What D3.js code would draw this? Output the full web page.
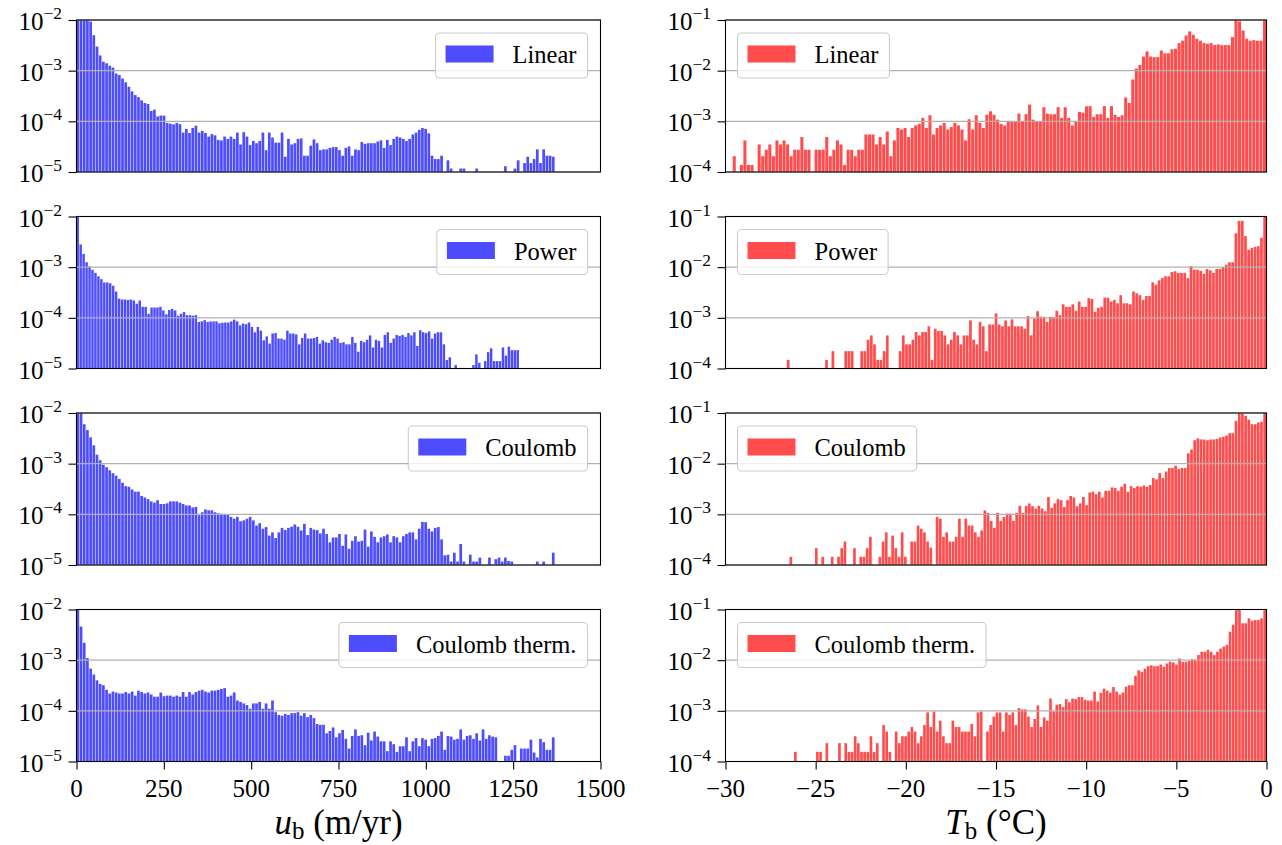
<!DOCTYPE html>
<html>
<head>
<meta charset="utf-8">
<script src="https://cdn.jsdelivr.net/npm/d3@7"></script>
<style>
body { margin: 0; background: #fff; }
svg text { font-family: "Liberation Serif", "Times New Roman", serif; fill: #000; }
</style>
</head>
<body>
<div id="chart"></div>
<script>
// ---- data (density per bin, 150 bins per histogram) ----
var labels = ["Linear", "Power", "Coulomb", "Coulomb therm."];

// value range covered by the bins of each histogram
var velRanges = [[0, 1370], [0, 1268], [0, 1370], [0, 1370]];
var tempRanges = [[-29.6, 0], [-26.6, 0], [-26.45, 0], [-26.2, 0]];

var velTicks = [0, 250, 500, 750, 1000, 1250, 1500];
var tempTicks = [-30, -25, -20, -15, -10, -5, 0];
var velDecades = [1e-5, 1e-4, 1e-3, 1e-2];
var tempDecades = [1e-4, 1e-3, 1e-2, 1e-1];

var velLinear = [
 1.5e-2,1.3e-2,1.1e-2,1.0e-2,9.3e-3,5.0e-3,3.0e-3,2.0e-3,1.5e-3,1.4e-3,
 1.25e-3,1.15e-3,8.8e-4,8.2e-4,7.0e-4,5.9e-4,4.8e-4,3.9e-4,3.3e-4,3.0e-4,
 2.6e-4,2.3e-4,2.2e-4,1.6e-4,1.7e-4,1.25e-4,1.3e-4,1.3e-4,9.3e-5,9.0e-5,
 8.7e-5,9.3e-5,8.8e-5,6.0e-5,7.1e-5,5.9e-5,7.4e-5,8.2e-5,6.0e-5,6.5e-5,
 5.9e-5,5.0e-5,5.6e-5,5.3e-5,4.3e-5,4.2e-5,5.0e-5,4.5e-5,5.0e-5,4.5e-5,
 6.0e-5,3.5e-5,6.1e-5,5.0e-5,3.4e-5,4.1e-5,3.7e-5,4.1e-5,6.0e-5,2.7e-5,
 6.0e-5,4.8e-5,3.8e-5,3.8e-5,6.0e-5,2.0e-5,4.5e-5,3.5e-5,3.7e-5,4.5e-5,
 4.6e-5,2.1e-5,2.1e-5,3.3e-5,4.4e-5,3.7e-5,2.7e-5,2.8e-5,2.8e-5,3.0e-5,
 3.1e-5,3.1e-5,2.7e-5,2.1e-5,3.0e-5,3.2e-5,2.1e-5,2.8e-5,2.7e-5,3.9e-5,
 3.6e-5,3.7e-5,3.7e-5,3.7e-5,4.0e-5,4.2e-5,3.0e-5,4.3e-5,3.4e-5,4.5e-5,
 5.0e-5,4.8e-5,4.5e-5,4.1e-5,4.5e-5,5.5e-5,6.0e-5,6.8e-5,7.4e-5,7.1e-5,
 5.8e-5,2.1e-5,1.8e-5,1.8e-5,2.1e-5,0,1.7e-5,1.17e-5,0,0,
 1.17e-5,1.17e-5,0,0,0,1.17e-5,0,0,0,0,
 0,0,0,0,1.3e-5,0,0,1.17e-5,1.7e-5,0,
 1.5e-5,2.0e-5,1.5e-5,1.8e-5,2.8e-5,1.5e-5,2.8e-5,2.1e-5,2.1e-5,2.0e-5
];

var velPower = [
 1.2e-2,2.8e-3,1.83e-3,1.25e-3,1.04e-3,8.9e-4,7.7e-4,6.6e-4,5.8e-4,5.0e-4,
 5.0e-4,4.8e-4,4.3e-4,3.3e-4,2.4e-4,2.3e-4,2.3e-4,2.25e-4,2.3e-4,2.2e-4,
 1.9e-4,2.2e-4,1.65e-4,1.65e-4,1.2e-4,1.6e-4,1.6e-4,1.6e-4,1.65e-4,1.4e-4,
 1.17e-4,1.43e-4,1.5e-4,1.4e-4,1.1e-4,1.2e-4,1.3e-4,1.13e-4,1.13e-4,1.1e-4,
 1.13e-4,8.3e-5,8.5e-5,9.0e-5,8.3e-5,8.5e-5,8.5e-5,8.5e-5,7.8e-5,8.0e-5,
 8.1e-5,8.1e-5,8.5e-5,9.2e-5,8.5e-5,7.1e-5,7.7e-5,7.5e-5,8.1e-5,6.6e-5,
 5.2e-5,6.6e-5,5.6e-5,3.6e-5,4.3e-5,3.1e-5,4.9e-5,5.0e-5,3.9e-5,3.9e-5,
 3.7e-5,5.6e-5,4.9e-5,4.9e-5,4.7e-5,3.0e-5,4.0e-5,4.9e-5,3.9e-5,3.9e-5,
 4.0e-5,4.2e-5,3.1e-5,3.6e-5,3.3e-5,3.2e-5,3.7e-5,4.2e-5,3.9e-5,3.2e-5,
 3.3e-5,3.0e-5,3.0e-5,4.2e-5,3.2e-5,2.15e-5,3.5e-5,3.3e-5,3.7e-5,4.5e-5,
 2.6e-5,3.7e-5,3.5e-5,2.6e-5,4.6e-5,5.2e-5,3.2e-5,3.9e-5,4.6e-5,4.4e-5,
 4.6e-5,4.2e-5,5.0e-5,4.5e-5,5.2e-5,2.8e-5,5.7e-5,5.2e-5,5.0e-5,5.4e-5,
 3.9e-5,4.9e-5,5.2e-5,5.2e-5,3.0e-5,1.47e-5,1.66e-5,0,1.17e-5,0,
 0,0,0,0,1.17e-5,1.9e-5,1.3e-5,0,1.4e-5,2.1e-5,
 2.5e-5,1.4e-5,1.4e-5,1.4e-5,2.6e-5,1.8e-5,2.7e-5,2.3e-5,2.3e-5,2.3e-5
];

var velCoulomb = [
 1.2e-2,1.0e-2,6.0e-3,4.6e-3,3.3e-3,2.3e-3,1.5e-3,1.17e-3,9.5e-4,8.5e-4,
 7.4e-4,6.5e-4,5.8e-4,5.0e-4,4.2e-4,3.6e-4,3.5e-4,3.1e-4,2.8e-4,2.8e-4,
 2.3e-4,2.15e-4,2.0e-4,1.8e-4,1.7e-4,1.9e-4,1.6e-4,1.6e-4,1.65e-4,1.8e-4,
 1.8e-4,1.8e-4,1.7e-4,1.6e-4,1.5e-4,1.5e-4,1.37e-4,1.4e-4,9.6e-5,1.1e-4,
 1.25e-4,1.2e-4,1.2e-4,1.1e-4,1.05e-4,1.02e-4,1.0e-4,9.8e-5,8.9e-5,8.2e-5,
 8.9e-5,7.3e-5,7.6e-5,8.2e-5,8.9e-5,7.6e-5,6.0e-5,6.7e-5,5.2e-5,5.6e-5,
 3.8e-5,4.4e-5,3.4e-5,4.4e-5,5.4e-5,4.9e-5,5.4e-5,5.7e-5,6.3e-5,5.7e-5,
 4.8e-5,6.5e-5,3.9e-5,5.4e-5,5.0e-5,4.9e-5,4.2e-5,5.2e-5,4.1e-5,2.8e-5,
 3.5e-5,3.5e-5,4.1e-5,2.4e-5,4.0e-5,2.1e-5,3.0e-5,3.7e-5,2.9e-5,3.0e-5,
 5.0e-5,2.3e-5,4.6e-5,3.6e-5,2.8e-5,3.5e-5,3.7e-5,4.0e-5,2.8e-5,3.7e-5,
 3.5e-5,2.8e-5,3.7e-5,4.1e-5,4.4e-5,4.4e-5,3.2e-5,5.2e-5,7.1e-5,7.0e-5,
 5.2e-5,4.6e-5,5.4e-5,5.6e-5,3.2e-5,1.55e-5,1.6e-5,1.17e-5,1.75e-5,1.17e-5,
 2.6e-5,1.17e-5,0,1.6e-5,1.17e-5,1.17e-5,1.4e-5,0,0,1.4e-5,
 0,1.3e-5,1.4e-5,1.17e-5,1.4e-5,1.2e-5,1.17e-5,0,0,0,
 0,0,0,0,1.17e-5,0,1.17e-5,0,0,1.75e-5
];

var velCoulombTherm = [
 1.2e-2,4.6e-3,2.2e-3,1.1e-3,6.8e-4,5.2e-4,4.0e-4,3.4e-4,3.2e-4,2.6e-4,
 2.2e-4,2.4e-4,2.3e-4,2.2e-4,2.2e-4,2.35e-4,2.2e-4,2.4e-4,2.0e-4,2.5e-4,
 2.35e-4,2.2e-4,2.3e-4,2.1e-4,1.9e-4,1.9e-4,2.3e-4,1.95e-4,2.0e-4,2.0e-4,
 1.9e-4,2.0e-4,1.9e-4,2.35e-4,1.9e-4,2.35e-4,2.1e-4,2.35e-4,2.5e-4,2.6e-4,
 2.4e-4,2.3e-4,2.5e-4,2.5e-4,2.6e-4,2.7e-4,2.8e-4,1.9e-4,2.0e-4,2.3e-4,
 1.6e-4,1.5e-4,1.4e-4,1.3e-4,1.1e-4,1.4e-4,1.4e-4,1.5e-4,1.1e-4,1.4e-4,
 1.1e-4,1.6e-4,9.4e-5,8.3e-5,8.0e-5,8.7e-5,8.3e-5,9.0e-5,9.0e-5,9.4e-5,
 8.0e-5,9.0e-5,7.5e-5,8.3e-5,7.2e-5,5.5e-5,5.3e-5,5.3e-5,3.6e-5,4.0e-5,
 4.7e-5,3.0e-5,3.6e-5,4.2e-5,2.8e-5,1.8e-5,3.2e-5,4.3e-5,3.2e-5,3.3e-5,
 2.1e-5,3.7e-5,2.6e-5,3.9e-5,3.1e-5,2.5e-5,2.5e-5,1.6e-5,2.5e-5,2.2e-5,
 1.55e-5,2.0e-5,2.0e-5,3.0e-5,1.6e-5,2.5e-5,2.9e-5,2.0e-5,2.9e-5,2.7e-5,
 2.0e-5,2.8e-5,2.9e-5,3.2e-5,3.9e-5,1.7e-5,3.2e-5,3.1e-5,2.7e-5,2.8e-5,
 4.3e-5,2.7e-5,3.2e-5,3.3e-5,2.8e-5,3.6e-5,2.6e-5,4.3e-5,2.8e-5,3.3e-5,
 3.1e-5,3.0e-5,0,0,1.3e-5,1.3e-5,1.7e-5,2.1e-5,0,1.8e-5,
 1.8e-5,1.8e-5,2.7e-5,1.5e-5,1.2e-5,2.8e-5,2.4e-5,1.7e-5,1.7e-5,3.0e-5
];

var tempLinear = [
 2.05e-4,0,1.38e-4,4.2e-4,1.38e-4,1.38e-4,0,3.5e-4,2.05e-4,2.75e-4,
 3.5e-4,2.05e-4,4.2e-4,3.5e-4,4.2e-4,3.5e-4,2.05e-4,2.75e-4,2.75e-4,4.9e-4,
 2.75e-4,2.75e-4,0,2.75e-4,2.75e-4,2.75e-4,4.9e-4,2.05e-4,2.75e-4,4.2e-4,
 3.5e-4,1.38e-4,2.75e-4,2.75e-4,2.05e-4,2.75e-4,2.75e-4,5.5e-4,5.5e-4,5.5e-4,
 3.5e-4,4.9e-4,3.5e-4,6.3e-4,2.05e-4,4.2e-4,7.4e-4,6.9e-4,7.4e-4,4.9e-4,
 7.4e-4,8.3e-4,8.9e-4,1.17e-3,7.4e-4,1.32e-3,5.5e-4,7.4e-4,8.3e-4,9.3e-4,
 6.9e-4,7.7e-4,9.3e-4,8.3e-4,6.9e-4,4.2e-4,1.1e-3,6.9e-4,1.32e-3,9.3e-4,
 7.4e-4,1.35e-3,1.58e-3,1.35e-3,1.08e-3,8.9e-4,8.3e-4,1.02e-3,9.7e-4,9.7e-4,
 1.42e-3,1.0e-3,1.38e-3,2.14e-3,1.08e-3,1.0e-3,9.7e-4,1.9e-3,1.42e-3,1.38e-3,
 1.38e-3,1.9e-3,1.17e-3,1.9e-3,1.17e-3,8.3e-4,1.02e-3,1.54e-3,1.48e-3,1.98e-3,
 2.0e-3,1.22e-3,1.38e-3,1.38e-3,2.0e-3,1.17e-3,2.0e-3,1.35e-3,1.22e-3,1.32e-3,
 2.95e-3,2.3e-3,6.7e-3,1.1e-2,1.3e-2,1.9e-2,2.4e-2,1.9e-2,1.85e-2,1.85e-2,
 2.5e-2,2.2e-2,2.2e-2,2.65e-2,2.7e-2,3.5e-2,3.9e-2,4.96e-2,5.95e-2,5.1e-2,
 4.25e-2,3.9e-2,3.5e-2,3.4e-2,3.5e-2,3.2e-2,3.3e-2,3.2e-2,3.2e-2,3.2e-2,
 4.6e-2,0.12,9.4e-2,6.2e-2,4.25e-2,3.9e-2,4.0e-2,3.9e-2,3.9e-2,0.12
];

var tempPower = [
 1.48e-4,0,0,0,0,0,0,0,0,0,
 0,0,1.48e-4,0,2.2e-4,0,0,0,2.2e-4,2.2e-4,
 2.2e-4,0,0,2.2e-4,2.2e-4,3.7e-4,4.5e-4,3.0e-4,1.48e-4,1.48e-4,
 2.2e-4,4.5e-4,0,0,0,2.2e-4,4.5e-4,3.0e-4,3.0e-4,3.7e-4,
 5.25e-4,4.5e-4,5.25e-4,5.25e-4,6.8e-4,1.48e-4,6.1e-4,5.5e-4,5.5e-4,4.5e-4,
 3.0e-4,3.7e-4,5.25e-4,4.5e-4,3.0e-4,4.5e-4,4.5e-4,8.9e-4,3.7e-4,3.0e-4,
 8.3e-4,6.8e-4,2.2e-4,7.4e-4,7.4e-4,1.22e-3,7.4e-4,6.8e-4,8.9e-4,6.8e-4,
 9.3e-4,6.8e-4,6.8e-4,6.8e-4,6.1e-4,1.08e-3,4.5e-4,9.7e-4,1.35e-3,1.05e-3,
 1.05e-3,8.3e-4,1.05e-3,1.02e-3,1.38e-3,1.13e-3,1.85e-3,1.65e-3,1.65e-3,1.85e-3,
 1.38e-3,2.1e-3,1.65e-3,1.65e-3,2.45e-3,2.35e-3,1.32e-3,1.58e-3,1.65e-3,2.5e-3,
 2.5e-3,2.1e-3,2.25e-3,1.94e-3,2.8e-3,1.94e-3,1.94e-3,1.85e-3,3.3e-3,3.05e-3,
 2.8e-3,2.25e-3,2.7e-3,2.7e-3,5.0e-3,4.5e-3,5.5e-3,6.1e-3,6.6e-3,6.6e-3,
 8.0e-3,8.3e-3,7.7e-3,7.7e-3,7.7e-3,6.1e-3,1.05e-2,8.9e-3,8.9e-3,8.5e-3,
 7.4e-3,9.2e-3,8.7e-3,7.7e-3,9.2e-3,9.2e-3,1.0e-2,1.12e-2,1.25e-2,1.25e-2,
 4.65e-2,8.2e-2,8.2e-2,4.1e-2,2.2e-2,2.4e-2,2.5e-2,2.6e-2,3.8e-2,0.12
];

var tempCoulomb = [
 1.45e-4,0,0,0,0,0,0,0,2.15e-4,0,
 1.45e-4,0,0,1.45e-4,0,1.45e-4,2.15e-4,2.9e-4,0,0,
 2.15e-4,0,1.45e-4,1.45e-4,2.15e-4,3.6e-4,0,0,1.45e-4,2.9e-4,
 4.4e-4,1.45e-4,3.8e-4,2.15e-4,1.45e-4,4.4e-4,1.45e-4,0,2.9e-4,2.9e-4,
 6.0e-4,5.2e-4,4.4e-4,2.9e-4,2.2e-4,0,8.9e-4,8.2e-4,3.6e-4,4.4e-4,
 2.9e-4,2.9e-4,3.6e-4,8.2e-4,3.6e-4,8.2e-4,6.0e-4,6.0e-4,4.4e-4,3.6e-4,
 4.8e-4,1.2e-3,1.07e-3,7.4e-4,5.4e-4,1.07e-3,7.4e-4,8.9e-4,1.03e-3,1.03e-3,
 7.4e-4,1.07e-3,1.47e-3,1.07e-3,1.47e-3,1.64e-3,1.45e-3,1.3e-3,1.47e-3,1.3e-3,
 1.15e-3,2.2e-3,1.34e-3,1.64e-3,2.0e-3,1.9e-3,1.4e-3,1.9e-3,2.3e-3,2.15e-3,
 1.45e-3,1.64e-3,2.2e-3,1.52e-3,2.7e-3,2.8e-3,2.5e-3,2.8e-3,2.15e-3,2.9e-3,
 2.9e-3,3.4e-3,3.3e-3,2.9e-3,3.5e-3,4.0e-3,2.8e-3,3.6e-3,3.3e-3,3.6e-3,
 3.5e-3,3.7e-3,3.5e-3,3.8e-3,5.2e-3,4.9e-3,6.5e-3,5.2e-3,7.0e-3,8.2e-3,
 8.2e-3,9.1e-3,7.8e-3,8.2e-3,8.2e-3,1.6e-2,1.9e-2,2.9e-2,3.16e-2,3.0e-2,
 3.0e-2,2.9e-2,3.0e-2,3.0e-2,3.1e-2,3.3e-2,3.4e-2,3.6e-2,4.0e-2,4.0e-2,
 7.0e-2,0.12,9.7e-2,8.8e-2,7.4e-2,6.0e-2,6.0e-2,6.5e-2,6.7e-2,0.12
];

var tempCoulombTherm = [
 1.55e-4,0,0,0,0,0,0,1.55e-4,1.55e-4,0,
 2.3e-4,0,0,0,2.3e-4,0,2.3e-4,1.55e-4,1.55e-4,3.15e-4,
 2.3e-4,1.55e-4,1.55e-4,1.55e-4,3.15e-4,1.55e-4,2.3e-4,0,5.25e-4,3.9e-4,
 1.55e-4,0,3.9e-4,2.3e-4,3.15e-4,3.15e-4,3.9e-4,4.8e-4,3.9e-4,2.3e-4,
 3.15e-4,5.25e-4,9.3e-4,4.8e-4,9.7e-4,3.9e-4,6.4e-4,3.15e-4,2.3e-4,2.3e-4,
 6.4e-4,4.8e-4,4.8e-4,3.9e-4,3.9e-4,3.9e-4,5.5e-4,3.15e-4,9.3e-4,9.7e-4,
 0,3.9e-4,5.25e-4,7.7e-4,9.3e-4,9.3e-4,3.9e-4,9.3e-4,8.3e-4,9.3e-4,
 5.25e-4,1.13e-3,1.07e-3,1.07e-3,7.7e-4,4.8e-4,6.9e-4,1.28e-3,4.8e-4,7.4e-4,
 6.4e-4,1.75e-3,9.7e-4,1.32e-3,1.36e-3,1.18e-3,1.7e-3,1.48e-3,1.75e-3,1.7e-3,
 1.87e-3,1.87e-3,1.65e-3,1.6e-3,1.6e-3,2.4e-3,1.53e-3,2.25e-3,2.75e-3,2.5e-3,
 2.3e-3,2.95e-3,2.4e-3,2.1e-3,2.3e-3,3.0e-3,3.2e-3,3.2e-3,4.9e-3,6.3e-3,
 5.9e-3,6.8e-3,7.6e-3,7.9e-3,7.6e-3,7.7e-3,8.2e-3,7.4e-3,8.6e-3,9.3e-3,
 9.0e-3,8.2e-3,1.08e-2,9.3e-3,9.3e-3,9.7e-3,1.05e-2,1.0e-2,1.26e-2,1.47e-2,
 1.47e-2,1.6e-2,1.47e-2,1.26e-2,1.47e-2,1.7e-2,1.85e-2,2.0e-2,3.65e-2,5.0e-2,
 0.12,0.12,5.35e-2,5.35e-2,6.7e-2,6.0e-2,6.2e-2,6.2e-2,6.7e-2,0.12
];

var velSeries = [velLinear, velPower, velCoulomb, velCoulombTherm];
var tempSeries = [tempLinear, tempPower, tempCoulomb, tempCoulombTherm];

// ---- layout ----
var svgWidth = 1282;
var svgHeight = 845;
var panelHeight = 152;
var rowTops = [20, 216.5, 413, 609.5];
var leftCol = {x0: 76.5, x1: 600.5};
var rightCol = {x0: 725.5, x1: 1266.5};

var svg = d3.select("#chart")
    .append("svg")
    .attr("width", svgWidth)
    .attr("height", svgHeight);

function minusFmt(d) {
    return d < 0 ? "\u2212" + Math.abs(d) : String(d);
}

// one histogram panel
function drawHist(cfg) {
    var top = rowTops[cfg.row];
    var bottom = top + panelHeight;
    var col = cfg.col;

    var x = d3.scaleLinear().domain(cfg.xDomain).range([col.x0, col.x1]);
    var y = d3.scaleLog().domain(cfg.yDomain).range([bottom, top]);

    var g = svg.append("g");

    g.append("clipPath")
        .attr("id", cfg.id)
        .append("rect")
        .attr("x", col.x0)
        .attr("y", top)
        .attr("width", col.x1 - col.x0)
        .attr("height", panelHeight);

    // bins
    var binW = (cfg.range[1] - cfg.range[0]) / cfg.values.length;
    var bins = cfg.values.map(function(v, i) {
        return {x0: cfg.range[0] + i * binW, x1: cfg.range[0] + (i + 1) * binW, v: v};
    }).filter(d => d.v > 0);

    g.append("g")
        .attr("clip-path", "url(#" + cfg.id + ")")
        .selectAll("rect")
        .data(bins)
        .enter()
        .append("rect")
        .attr("x", d => x(d.x0))
        .attr("width", d => Math.max(0.5, x(d.x1) - x(d.x0) - 0.5))
        .attr("y", d => y(d.v))
        .attr("height", d => bottom - y(d.v))
        .attr("fill", cfg.color);

    // horizontal grid (drawn over the bars, like matplotlib)
    g.selectAll("line.grid")
        .data(cfg.decades)
        .enter()
        .append("line")
        .attr("class", "grid")
        .attr("x1", col.x0)
        .attr("x2", col.x1)
        .attr("y1", d => y(d))
        .attr("y2", d => y(d))
        .attr("stroke", "#b0b0b0")
        .attr("stroke-width", 1.1);

    // y axis ticks
    var yAxis = d3.axisLeft(y).tickValues(cfg.decades).tickSize(8).tickFormat("");
    var yg = g.append("g")
        .attr("transform", `translate(${col.x0},0)`)
        .call(yAxis);
    yg.select(".domain").remove();
    yg.selectAll(".tick line").attr("stroke-width", 1.1);

    // y tick labels 10^n
    cfg.decades.forEach(function(d) {
        var e = Math.round(Math.log10(d));
        var t = g.append("text")
            .attr("x", col.x0 - 14.5)
            .attr("y", y(d) + 10)
            .attr("text-anchor", "end")
            .style("font-size", "25px");
        t.append("tspan").text("10");
        t.append("tspan")
            .attr("dy", -11)
            .style("font-size", "17.5px")
            .text((e < 0 ? "\u2212" : "") + Math.abs(e));
    });

    // x axis (bottom row only)
    if (cfg.row === 3) {
        var xAxis = d3.axisBottom(x).tickValues(cfg.xTicks).tickSize(8).tickFormat("");
        var xg = g.append("g")
            .attr("transform", `translate(0,${bottom})`)
            .call(xAxis);
        xg.select(".domain").remove();
        xg.selectAll(".tick line").attr("stroke-width", 1.1);

        g.selectAll("text.xtick")
            .data(cfg.xTicks)
            .enter()
            .append("text")
            .attr("class", "xtick")
            .attr("x", d => x(d))
            .attr("y", 797)
            .attr("text-anchor", "middle")
            .style("font-size", "25px")
            .text(minusFmt);

        var lab = g.append("text")
            .attr("x", (col.x0 + col.x1) / 2)
            .attr("y", 834)
            .attr("text-anchor", "middle")
            .style("font-size", "35px");
        lab.append("tspan").style("font-style", "italic").text(cfg.xVar);
        lab.append("tspan").attr("dy", 5).style("font-size", "25px").text("b");
        lab.append("tspan").attr("dy", -5).text("\u00a0(" + cfg.xUnit + ")");
    }

    // frame
    g.append("rect")
        .attr("x", col.x0)
        .attr("y", top)
        .attr("width", col.x1 - col.x0)
        .attr("height", panelHeight)
        .attr("fill", "none")
        .attr("stroke", "#000")
        .attr("stroke-width", 1.1);

    // legend
    var lg = g.append("g");
    var box = lg.append("rect")
        .attr("rx", 4)
        .attr("ry", 4)
        .attr("fill", "#fff")
        .attr("fill-opacity", 0.8)
        .attr("stroke", "#cccccc")
        .attr("stroke-width", 1.1);
    var handle = lg.append("rect").attr("fill", cfg.color);
    var txt = lg.append("text")
        .style("font-size", "24.5px")
        .text(cfg.label);
    var tw = txt.node().getComputedTextLength();
    var bw = tw + 88;
    var bx = cfg.legendLeft ? col.x0 + 12 : col.x1 - 13 - bw;
    var by = top + 13;
    box.attr("x", bx).attr("y", by).attr("width", bw).attr("height", 45);
    handle.attr("x", bx + 10).attr("y", by + 12.5).attr("width", 48).attr("height", 17);
    txt.attr("x", bx + 77).attr("y", by + 30);
}

for (var i = 0; i < 4; i++) {
    drawHist({
        id: "clipv" + i, row: i, col: leftCol,
        values: velSeries[i], range: velRanges[i],
        xDomain: [0, 1500], yDomain: [1e-5, 1e-2], decades: velDecades,
        xTicks: velTicks, color: "#4d4dff", label: labels[i], legendLeft: false,
        xVar: "u", xUnit: "m/yr"
    });
    drawHist({
        id: "clipt" + i, row: i, col: rightCol,
        values: tempSeries[i], range: tempRanges[i],
        xDomain: [-30, 0], yDomain: [1e-4, 1e-1], decades: tempDecades,
        xTicks: tempTicks, color: "#ff4d4d", label: labels[i], legendLeft: true,
        xVar: "T", xUnit: "\u00b0C"
    });
}
</script>
</body>
</html>
